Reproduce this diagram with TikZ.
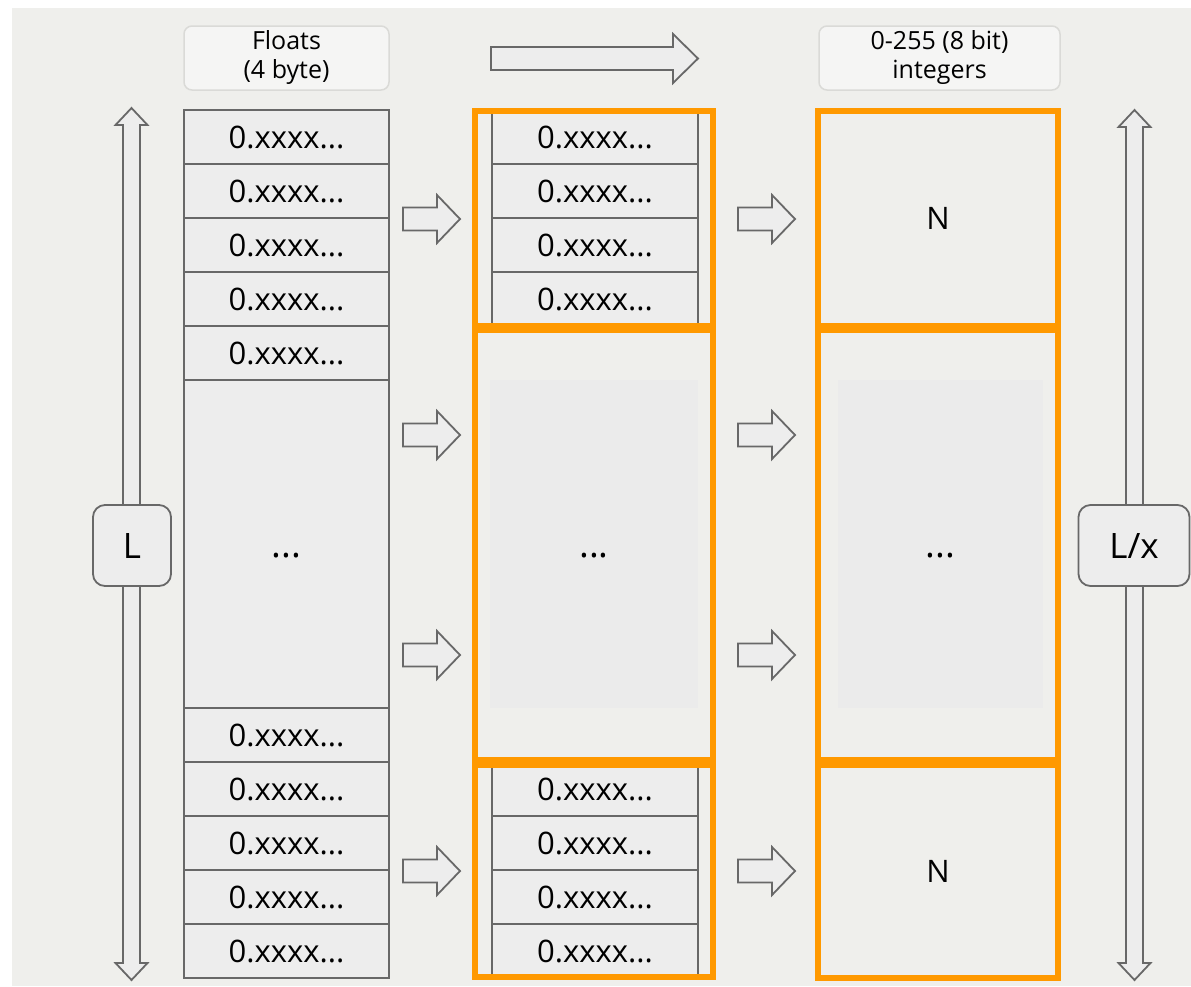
\documentclass[tikz,border=0pt]{standalone}
\usepackage{fontspec}
\setmainfont{Open Sans}
\newcommand\celltext{\fontsize{31}{36}\selectfont}
\newcommand\hdrtext{\fontsize{25}{29}\selectfont}
\newcommand\sidetext{\fontsize{35}{40}\selectfont}
\newcommand\gapdots{{\fontsize{37}{40}\selectfont\raisebox{-13pt}[0pt][0pt]{...}}}
\definecolor{pagebg}{HTML}{EFEFEC}
\definecolor{cellfill}{HTML}{EDEDED}
\definecolor{cellline}{HTML}{686868}
\definecolor{hdrline}{HTML}{DADAD7}
\definecolor{quantorange}{HTML}{FF9900}
\definecolor{gapfill}{HTML}{EBEBEB}
\begin{document}
\begin{tikzpicture}[x=1pt,y=-1pt,
  every node/.style={outer sep=0pt},
  cell/.style={draw=cellline, fill=cellfill, line width=1.8pt, minimum width=205pt,
    minimum height=54pt, inner sep=0pt, anchor=north west, font=\celltext},
  mcell/.style={cell, minimum width=206pt},
  gap/.style={fill=gapfill, inner sep=0pt, anchor=north west, font=\celltext},
  hdr/.style={draw=hdrline, fill=pagebg!60!white, line width=1.5pt, rounded corners=8pt,
    minimum width=205pt, minimum height=64pt, inner sep=0pt, anchor=north west,
    align=center, font=\hdrtext},
  obox/.style={draw=quantorange, line width=6.5pt, inner sep=0pt, anchor=north west,
    font=\celltext},
  sidebox/.style={draw=cellline, fill=cellfill, line width=1.8pt, rounded corners=12pt,
    minimum height=81pt, inner sep=0pt, font=\sidetext},
  arrowline/.style={draw=cellline, fill=cellfill, line width=1.8pt},
  pics/barrow/.style={code={
    \draw[arrowline] (0,-11.5) -- (34,-11.5) -- (34,-24) -- (57,0) -- (34,24)
      -- (34,11.5) -- (0,11.5) -- cycle;}}
]
% canvas
\useasboundingbox (0,0) rectangle (1191,986);
\fill[white] (0,0) rectangle (1191,986);
\fill[pagebg] (12,8) rectangle (1191,986);

% headers
\node[hdr] (hfloat) at (184,26) {Floats\\(4 byte)};
\node[hdr, minimum width=241pt] (hint) at (819,26) {0-255 (8 bit)\\integers};

% top direction arrow
\draw[arrowline] (491,47) -- (673,47) -- (673,34) -- (698,58.5) -- (673,83)
  -- (673,70) -- (491,70) -- cycle;

% float column
\foreach \i in {0,...,4}
  \node[cell] (fa\i) at (184,{110+54*\i}) {0.xxxx...};
\node[cell, minimum height=328pt] (fgap) at (184,380) {\gapdots};
\foreach \i in {0,...,4}
  \node[cell] (fb\i) at (184,{708+54*\i}) {0.xxxx...};

% grouped column
\foreach \i in {0,...,3}
  \node[mcell] (ma\i) at (492,{110+54*\i}) {0.xxxx...};
\node[gap, minimum width=208pt, minimum height=328pt] (mgap) at (490,380) {\gapdots};
\foreach \i in {0,...,3}
  \node[mcell] (mb\i) at (492,{762+54*\i}) {0.xxxx...};

% integer column
\node[gap, minimum width=205pt, minimum height=328pt] (igap) at (838,380) {\gapdots};

% orange group frames
\node[obox, minimum width=238pt, minimum height=215pt] (ga) at (475,111) {};
\node[obox, minimum width=238pt, minimum height=430pt] (gb) at (475,330) {};
\node[obox, minimum width=238pt, minimum height=212pt] (gc) at (475,765) {};
\node[obox, minimum width=240pt, minimum height=215pt] (ia) at (818,111) {N};
\node[obox, minimum width=240pt, minimum height=430pt] (ib) at (818,330) {};
\node[obox, minimum width=240pt, minimum height=213pt] (ic) at (818,765) {N};

% block arrows between columns
\foreach \y in {219,435,655,871} {
  \pic at (403,\y) {barrow};
  \pic at (738,\y) {barrow};
}

% length arrows
\draw[arrowline] (131.5,108) -- (147.5,125) -- (140,125) -- (140,963) -- (147.5,963)
  -- (131.5,980) -- (115.5,963) -- (123,963) -- (123,125) -- (115.5,125) -- cycle;
\draw[arrowline] (1134.5,110) -- (1150.5,127) -- (1143,127) -- (1143,963) -- (1150.5,963)
  -- (1134.5,980) -- (1118.5,963) -- (1126,963) -- (1126,127) -- (1118.5,127) -- cycle;
\node[sidebox, minimum width=78pt] (lenL) at (132,545.5) {L};
\node[sidebox, minimum width=111pt] (lenLx) at (1134,545.5) {L/x};
\end{tikzpicture}
\end{document}
